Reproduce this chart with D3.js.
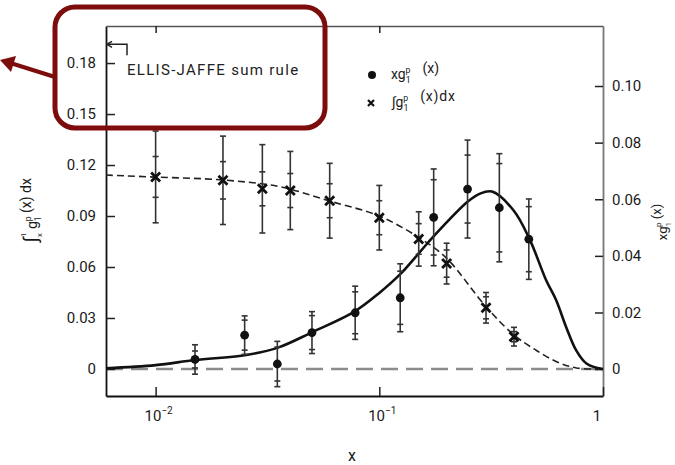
<!DOCTYPE html>
<html>
<head>
<meta charset="utf-8">
<script src="https://cdn.jsdelivr.net/npm/d3@7"></script>
<style>
  body { margin: 0; background: #fff; }
  svg { display: block; font-family: Roboto, "DejaVu Sans", sans-serif; }
</style>
</head>
<body>
<svg id="chart" width="675" height="465"></svg>
<script>
// measured points: x g1(x) at bin centres, integral of g1 from x to 1 at bin lower edges
const xCentres = [0.015, 0.025, 0.035, 0.05, 0.078, 0.124, 0.175, 0.248, 0.344, 0.466];
const xg1Val   = [0.0034, 0.012, 0.0018, 0.0129, 0.0199, 0.0252, 0.0536, 0.0636, 0.057, 0.0459];
const xg1Stat  = [0.003, 0.0053, 0.006, 0.006, 0.0074, 0.0094, 0.0133, 0.012, 0.0156, 0.0115];
const xg1Tot   = [0.0052, 0.0068, 0.008, 0.0074, 0.0094, 0.012, 0.0171, 0.0173, 0.0191, 0.0142];

const xEdges   = [0.01, 0.02, 0.03, 0.04, 0.06, 0.1, 0.15, 0.2, 0.3, 0.4];
const intVal   = [0.113, 0.111, 0.106, 0.105, 0.099, 0.089, 0.0765, 0.062, 0.036, 0.019];
const intStat  = [0.012, 0.011, 0.010, 0.010, 0.010, 0.010, 0.009, 0.008, 0.0065, 0.003];
const intTot   = [0.027, 0.026, 0.026, 0.023, 0.022, 0.019, 0.016, 0.012, 0.009, 0.0055];

// fitted curves
const fitX = [0.006, 0.01, 0.015, 0.025, 0.035, 0.05, 0.077, 0.1, 0.125, 0.152, 0.174, 0.248, 0.282, 0.319, 0.397, 0.468, 0.557, 0.617, 0.684, 0.758, 0.843, 1.0];
const fitY = [0.0003, 0.0014, 0.0032, 0.0049, 0.0075, 0.013, 0.0202, 0.0269, 0.0338, 0.0414, 0.0467, 0.0591, 0.062, 0.0627, 0.0562, 0.0462, 0.0314, 0.0244, 0.0149, 0.0067, 0.002, 0];
const intCurveX = [0.006, 0.01, 0.02, 0.036, 0.06, 0.1, 0.15, 0.2, 0.3, 0.4, 0.5, 0.62, 0.76, 1.0];
const intCurveY = [0.1141, 0.1129, 0.1112, 0.1072, 0.0988, 0.09, 0.0774, 0.0651, 0.0366, 0.02, 0.0112, 0.0043, 0.0006, 0];

const leftTicks  = [0, 0.03, 0.06, 0.09, 0.12, 0.15, 0.18];
const rightTicks = [0, 0.02, 0.04, 0.06, 0.08, 0.10];
const xTicks     = [0.01, 0.1, 1];
const xTickExp   = ["-2", "-1", null];
const ellisJaffe = 0.191;

const plot = { left: 106, right: 603, top: 26, bottom: 396 };
const svg = d3.select("#chart");

const x  = d3.scaleLog().domain([0.006, 1]).range([plot.left, plot.right]);
const yL = d3.scaleLinear().domain([-0.0159, 0.2018]).range([plot.bottom, plot.top]);
const yR = d3.scaleLinear().domain([-0.0095, 0.1212]).range([plot.bottom, plot.top]);

const fmt = d => d === 0 ? "0" : d3.format(".2f")(d);

// zero line
svg.append("line")
    .attr("x1", plot.left).attr("x2", plot.right)
    .attr("y1", yR(0)).attr("y2", yR(0))
    .attr("stroke", "#8c8c8c").attr("stroke-width", 2.5)
    .attr("stroke-dasharray", "17,8");

// axes (ticks point inward)
const gLeft = svg.append("g")
    .attr("transform", `translate(${plot.left},0)`)
    .call(d3.axisLeft(yL).tickValues(leftTicks).tickSize(-9).tickSizeOuter(0).tickPadding(10).tickFormat(fmt));
const gRight = svg.append("g")
    .attr("transform", `translate(${plot.right},0)`)
    .call(d3.axisRight(yR).tickValues(rightTicks).tickSize(-8).tickSizeOuter(0).tickPadding(9).tickFormat(fmt));
const gBottom = svg.append("g")
    .attr("transform", `translate(0,${plot.bottom})`)
    .call(d3.axisBottom(x).tickValues(xTicks).tickSize(-9).tickSizeOuter(0).tickFormat(""));
const gTop = svg.append("g")
    .attr("transform", `translate(0,${plot.top})`)
    .call(d3.axisTop(x).tickValues([0.01, 0.1]).tickSize(-7).tickSizeOuter(0).tickFormat(""));

[gLeft, gRight, gBottom, gTop].forEach(g => {
    g.selectAll("text").attr("font-size", 15).attr("fill", "#1a1a1a").attr("font-family", "Roboto, sans-serif");
    g.selectAll(".tick line").attr("stroke", "#222").attr("stroke-width", 1.5);
});
gLeft.select(".domain").attr("stroke", "#111").attr("stroke-width", 1.8);
gRight.select(".domain").attr("stroke", "#777").attr("stroke-width", 1.8);
gBottom.select(".domain").attr("stroke", "#111").attr("stroke-width", 2);
gTop.select(".domain").attr("stroke", "#555").attr("stroke-width", 1.4);

// x tick labels as powers of ten
xTicks.forEach((t, i) => {
    const lbl = svg.append("text")
        .attr("x", x(t) + (xTickExp[i] ? 3 : -6))
        .attr("y", 421)
        .attr("text-anchor", "middle")
        .attr("font-size", 15)
        .attr("fill", "#1a1a1a");
    if (xTickExp[i]) {
        lbl.append("tspan").text("10");
        lbl.append("tspan").attr("dy", -7).attr("font-size", 10).text(xTickExp[i].replace("-", "\u2212"));
    } else {
        lbl.text("1");
    }
});

svg.append("text")
    .attr("x", 352).attr("y", 461)
    .attr("text-anchor", "middle")
    .attr("font-size", 16).attr("fill", "#1a1a1a")
    .text("x");

// helper: base letter with stacked sub/superscript
function scripted(t, base, sub, sup, size, back) {
    t.append("tspan").text(base);
    t.append("tspan").attr("dy", size * 0.3).attr("font-size", size * 0.62).text(sub);
    t.append("tspan").attr("dx", -back).attr("dy", -size * 0.75).attr("font-size", size * 0.62).text(sup);
    t.append("tspan").attr("dy", size * 0.45).text("");
}

// left y label
const lt = svg.append("text")
    .attr("transform", "translate(37,210) rotate(-90)")
    .attr("text-anchor", "middle")
    .attr("font-size", 14).attr("fill", "#1a1a1a");
lt.append("tspan").attr("font-size", 19).text("\u222B");
lt.append("tspan").attr("dy", 5).attr("font-size", 8).text("x");
lt.append("tspan").attr("dx", -4).attr("dy", -16).attr("font-size", 8).text("1");
lt.append("tspan").attr("dy", 11).text(" ");
scripted(lt, "g", "1", "p", 14, 5);
lt.append("tspan").text(" (x) dx");

// right y label
const rt = svg.append("text")
    .attr("transform", "translate(667,222) rotate(-90)")
    .attr("text-anchor", "middle")
    .attr("font-size", 13).attr("fill", "#1a1a1a");
scripted(rt, "xg", "1", "p", 13, 5);
rt.append("tspan").text(" (x)");

// curves
const line = d3.line().curve(d3.curveCatmullRom.alpha(0.5));
svg.append("path")
    .attr("d", line(intCurveX.map((v, i) => [x(v), yL(intCurveY[i])])))
    .attr("fill", "none").attr("stroke", "#222")
    .attr("stroke-width", 1.6).attr("stroke-dasharray", "7,4");
svg.append("path")
    .attr("d", line(fitX.map((v, i) => [x(v), yR(fitY[i])])))
    .attr("fill", "none").attr("stroke", "#111")
    .attr("stroke-width", 2.6);

// error bars
function errorBars(xs, vals, stat, tot, y) {
    const g = svg.append("g").attr("stroke", "#333").attr("stroke-width", 1.6);
    xs.forEach((xv, i) => {
        const px = x(xv);
        g.append("line").attr("x1", px).attr("x2", px)
            .attr("y1", y(vals[i] + tot[i])).attr("y2", y(vals[i] - tot[i]));
        [vals[i] + tot[i], vals[i] - tot[i], vals[i] + stat[i], vals[i] - stat[i]].forEach(v => {
            g.append("line").attr("x1", px - 3).attr("x2", px + 3)
                .attr("y1", y(v)).attr("y2", y(v));
        });
    });
}
errorBars(xEdges, intVal, intStat, intTot, yL);
errorBars(xCentres, xg1Val, xg1Stat, xg1Tot, yR);

const crossPath = s => `M${-s},${-s}L${s},${s}M${s},${-s}L${-s},${s}`;

svg.append("g").selectAll("path")
    .data(xEdges)
    .join("path")
    .attr("transform", (d, i) => `translate(${x(d)},${yL(intVal[i])})`)
    .attr("d", crossPath(4.5))
    .attr("stroke", "#111").attr("stroke-width", 2.8);

svg.append("g").selectAll("circle")
    .data(xCentres)
    .join("circle")
    .attr("cx", d => x(d))
    .attr("cy", (d, i) => yR(xg1Val[i]))
    .attr("r", 4.4)
    .attr("fill", "#111");

// legend
svg.append("circle").attr("cx", 372).attr("cy", 75).attr("r", 4).attr("fill", "#111");
const l1 = svg.append("text").attr("x", 391).attr("y", 79).attr("font-size", 14).attr("fill", "#1a1a1a");
scripted(l1, "xg", "1", "p", 14, 5);
l1.append("tspan").attr("dx", 12).text("(x)");

svg.append("path").attr("transform", "translate(371,103)").attr("d", crossPath(3))
    .attr("stroke", "#111").attr("stroke-width", 2.2);
const l2 = svg.append("text").attr("x", 392).attr("y", 107).attr("font-size", 14).attr("fill", "#1a1a1a");
l2.append("tspan").text("\u222B");
scripted(l2, "g", "1", "p", 14, 5);
l2.append("tspan").attr("dx", 12).attr("letter-spacing", 0.8).text("(x)dx");

// Ellis-Jaffe marker
const ejY = yL(ellisJaffe);
svg.append("path")
    .attr("d", `M${plot.left},${ejY}H${plot.left + 21}V${ejY + 11}`)
    .attr("fill", "none").attr("stroke", "#222").attr("stroke-width", 1.5);
svg.append("path")
    .attr("d", `M${plot.left + 6},${ejY - 3}L${plot.left + 1},${ejY}L${plot.left + 6},${ejY + 3}`)
    .attr("fill", "none").attr("stroke", "#222").attr("stroke-width", 1.5);
svg.append("text")
    .attr("x", 127).attr("y", 75)
    .attr("font-size", 15).attr("letter-spacing", 1.3).attr("fill", "#222")
    .text("ELLIS-JAFFE sum rule");

// highlight box and pointer
const red = "#7d0c0c";
svg.append("rect")
    .attr("x", 55).attr("y", 7).attr("width", 270).attr("height", 121).attr("rx", 20)
    .attr("fill", "none").attr("stroke", red).attr("stroke-width", 5);
svg.append("line")
    .attr("x1", 55).attr("y1", 77).attr("x2", 12).attr("y2", 63.5)
    .attr("stroke", red).attr("stroke-width", 4);
svg.append("path")
    .attr("d", "M0,60L16,56L11,72Z")
    .attr("fill", red);
</script>
</body>
</html>
